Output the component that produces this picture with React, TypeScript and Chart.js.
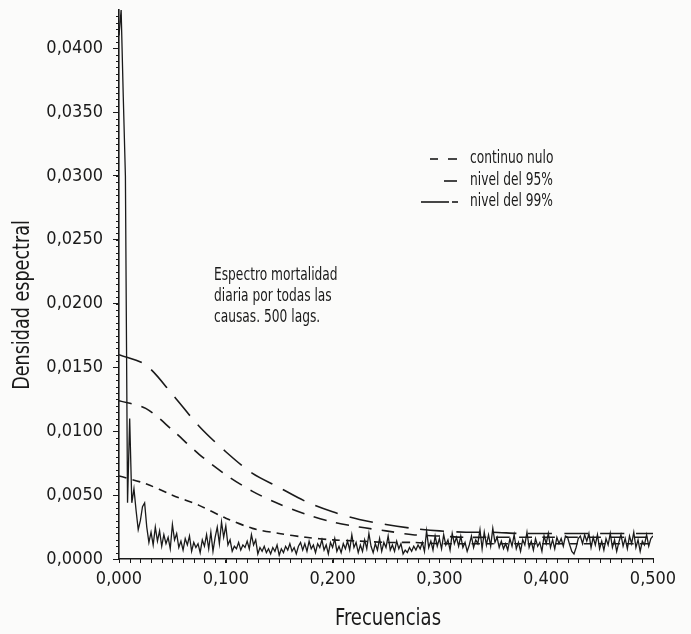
import React, { useEffect, useRef } from 'react';
import { Chart, registerables } from 'chart.js';
Chart.register(...registerables);

const FREQ_STEP = 0.002;
const spectrum = [
  0.0410, 0.0430, 0.0362, 0.0300, 0.0044, 0.0110, 0.0044, 0.0055, 0.0038, 0.0023,
  0.0030, 0.0041, 0.0044, 0.0025, 0.0013, 0.0021, 0.0011, 0.0025, 0.0014, 0.0022,
  0.0010, 0.0019, 0.0012, 0.0017, 0.0008, 0.0027, 0.0015, 0.0020, 0.0009, 0.0014,
  0.0007, 0.0016, 0.0011, 0.0018, 0.0006, 0.0013, 0.0009, 0.0012, 0.0005, 0.0015,
  0.0010, 0.0019, 0.0008, 0.0021, 0.0006, 0.0017, 0.0025, 0.0012, 0.0029, 0.0017,
  0.0026, 0.0011, 0.0015, 0.0006, 0.0010, 0.0008, 0.0013, 0.0007, 0.0011, 0.0009,
  0.0014, 0.0008, 0.0019, 0.0011, 0.0015, 0.0004, 0.0009, 0.0006, 0.0010, 0.0005,
  0.0008, 0.0004, 0.0009, 0.0006, 0.0011, 0.0003, 0.0008, 0.0005, 0.0010, 0.0007,
  0.0012, 0.0006, 0.0009, 0.0004, 0.0010, 0.0013, 0.0007, 0.0012, 0.0006, 0.0014,
  0.0008, 0.0011, 0.0005, 0.0012, 0.0009, 0.0015, 0.0007, 0.0011, 0.0004, 0.0013,
  0.0009, 0.0016, 0.0006, 0.0010, 0.0005, 0.0012, 0.0008, 0.0014, 0.0007, 0.0019,
  0.0009, 0.0013, 0.0005, 0.0011, 0.0006, 0.0015, 0.0008, 0.0020, 0.0010, 0.0005,
  0.0012, 0.0007, 0.0016, 0.0006, 0.0013, 0.0009, 0.0018, 0.0007, 0.0011, 0.0006,
  0.0014, 0.0008, 0.0012, 0.0004, 0.0007, 0.0005, 0.0009, 0.0006, 0.0010, 0.0007,
  0.0011, 0.0008, 0.0013, 0.0006, 0.0022, 0.0009, 0.0014, 0.0007, 0.0018, 0.0010,
  0.0016, 0.0008, 0.0019, 0.0011, 0.0015, 0.0007, 0.0020, 0.0012, 0.0017, 0.0010,
  0.0018, 0.0009, 0.0013, 0.0006, 0.0011, 0.0018, 0.0009, 0.0015, 0.0012, 0.0023,
  0.0008, 0.0021, 0.0011, 0.0019, 0.0010, 0.0024, 0.0013, 0.0017, 0.0009, 0.0014,
  0.0008, 0.0012, 0.0007, 0.0016, 0.0010, 0.0019, 0.0008, 0.0013, 0.0006, 0.0015,
  0.0011, 0.0021, 0.0009, 0.0014, 0.0007, 0.0016, 0.0010, 0.0013, 0.0006, 0.0018,
  0.0012, 0.0020, 0.0009, 0.0015, 0.0008, 0.0017, 0.0012, 0.0016, 0.0010, 0.0018,
  0.0017, 0.0011, 0.0006, 0.0004, 0.0009, 0.0016, 0.0018, 0.0012, 0.0019, 0.0014,
  0.0020, 0.0009, 0.0017, 0.0011, 0.0019, 0.0008, 0.0014, 0.0007, 0.0016, 0.0011,
  0.0020, 0.0009, 0.0015, 0.0006, 0.0013, 0.0019, 0.0010, 0.0016, 0.0008, 0.0018,
  0.0012, 0.0021, 0.0009, 0.0015, 0.0006, 0.0014, 0.0011, 0.0019, 0.0010, 0.0016,
  0.0018,
];

// Reference levels, read at these frequencies
const levelFreqs = [0, 0.025, 0.05, 0.075, 0.1, 0.125, 0.15, 0.175, 0.2, 0.225, 0.25,
  0.275, 0.3, 0.325, 0.35, 0.375, 0.4, 0.425, 0.45, 0.475, 0.5];
const nullContinuum = [0.0065, 0.0059, 0.0050, 0.0042, 0.0032, 0.0024, 0.0020, 0.0017, 0.0015,
  0.0014, 0.0013, 0.0013, 0.0012, 0.0012, 0.0012, 0.0012, 0.0012, 0.0012, 0.0012, 0.0012, 0.0012];
const level95 = [0.0124, 0.0118, 0.0101, 0.0082, 0.0066, 0.0053, 0.0043, 0.0035, 0.0029,
  0.0025, 0.0022, 0.0019, 0.0018, 0.0017, 0.0017, 0.0017, 0.0017, 0.0017, 0.0017, 0.0017, 0.0017];
const level99 = [0.0160, 0.0152, 0.0129, 0.0104, 0.0084, 0.0067, 0.0056, 0.0045, 0.0037,
  0.0031, 0.0027, 0.0024, 0.0022, 0.0021, 0.0021, 0.0020, 0.0020, 0.0020, 0.0020, 0.0020, 0.0020];

const xTicks = [0, 0.1, 0.2, 0.3, 0.4, 0.5];
const yTicks = [0, 0.005, 0.01, 0.015, 0.02, 0.025, 0.03, 0.035, 0.04];
const legendLabels = ['continuo nulo', 'nivel del 95%', 'nivel del 99%'];
const noteLines = ['Espectro mortalidad', 'diaria por todas las', 'causas. 500 lags.'];
const xTitle = 'Frecuencias';
const yTitle = 'Densidad espectral';

const FONT = '"Liberation Sans Narrow", "DejaVu Sans Condensed", "Arial Narrow", sans-serif';
const INK = '#1a1a1a';

function condensedText(ctx: CanvasRenderingContext2D, text: string, x: number, y: number, sx: number) {
  ctx.save();
  ctx.translate(x, y);
  ctx.scale(sx, 1);
  ctx.fillText(text, 0, 0);
  ctx.restore();
}

const overlayPlugin = {
  id: 'overlay',
  afterDraw(chart: any) {
    const ctx = chart.ctx as CanvasRenderingContext2D;
    const xs = chart.scales.x;
    const ys = chart.scales.y;
    const area = chart.chartArea;
    ctx.save();
    ctx.strokeStyle = INK;
    ctx.lineWidth = 1;
    // minor ticks on y (every 0.0005)
    for (let i = 0; i * 0.0005 <= 0.043; i++) {
      const py = Math.round(ys.getPixelForValue(i * 0.0005)) + 0.5;
      ctx.beginPath();
      ctx.moveTo(area.left - 3, py);
      ctx.lineTo(area.left, py);
      ctx.stroke();
    }
    // minor ticks on x (every 0.01)
    for (let i = 0; i <= 50; i++) {
      const px = Math.round(xs.getPixelForValue(i * 0.01)) + 0.5;
      ctx.beginPath();
      ctx.moveTo(px, area.bottom);
      ctx.lineTo(px, area.bottom + 4);
      ctx.stroke();
    }
    // legend
    ctx.lineWidth = 1.6;
    const rows = [159, 181, 202];
    const samples: number[][][] = [
      [[430, 438], [448, 457]],
      [[444, 457]],
      [[421, 449], [452, 458]],
    ];
    ctx.fillStyle = INK;
    ctx.font = '17px ' + FONT;
    ctx.textBaseline = 'middle';
    ctx.textAlign = 'left';
    legendLabels.forEach((lab, i) => {
      samples[i].forEach(([a, b]) => {
        ctx.beginPath();
        ctx.moveTo(a, rows[i]);
        ctx.lineTo(b, rows[i]);
        ctx.stroke();
      });
      condensedText(ctx, lab, 470, rows[i], 0.8);
    });
    // note
    const noteRows = [276, 297, 318];
    noteLines.forEach((t, i) => condensedText(ctx, t, 214, noteRows[i], 0.8));
    // axis titles
    ctx.font = '23px ' + FONT;
    ctx.textAlign = 'center';
    condensedText(ctx, xTitle, 388, 619, 0.87);
    ctx.save();
    ctx.translate(23, 305);
    ctx.rotate(-Math.PI / 2);
    condensedText(ctx, yTitle, 0, 0, 0.85);
    ctx.restore();
    ctx.restore();
  },
};

export default function App() {
  const ref = useRef<HTMLCanvasElement | null>(null);
  useEffect(() => {
    document.body.style.margin = '0';
    document.body.style.background = '#fbfbfa';
    const canvas = ref.current;
    if (!canvas) return;
    const chart = new Chart(canvas, {
      type: 'line',
      data: {
        datasets: [
          {
            label: 'Espectro',
            data: spectrum.map((v, i) => ({ x: i * FREQ_STEP, y: v })),
            borderColor: INK,
            borderWidth: 1.3,
            pointRadius: 0,
            tension: 0,
          },
          {
            label: legendLabels[0],
            data: levelFreqs.map((f, i) => ({ x: f, y: nullContinuum[i] })),
            borderColor: INK,
            borderWidth: 1.6,
            borderDash: [8, 6],
            pointRadius: 0,
            tension: 0.3,
          },
          {
            label: legendLabels[1],
            data: levelFreqs.map((f, i) => ({ x: f, y: level95[i] })),
            borderColor: INK,
            borderWidth: 1.6,
            borderDash: [13, 10],
            pointRadius: 0,
            tension: 0.3,
          },
          {
            label: legendLabels[2],
            data: levelFreqs.map((f, i) => ({ x: f, y: level99[i] })),
            borderColor: INK,
            borderWidth: 1.6,
            borderDash: [24, 12],
            pointRadius: 0,
            tension: 0.3,
          },
        ],
      },
      options: {
        animation: false,
        responsive: false,
        maintainAspectRatio: false,
        layout: { padding: { left: 0, right: 38, top: 10, bottom: 0 } },
        plugins: { legend: { display: false }, tooltip: { enabled: false } },
        scales: {
          x: {
            type: 'linear',
            min: 0,
            max: 0.5,
            afterBuildTicks: (s: any) => { s.ticks = xTicks.map((v) => ({ value: v })); },
            afterFit: (s: any) => { s.height = 75; s.paddingLeft = 0; s.paddingRight = 0; },
            grid: { display: true, drawOnChartArea: false, drawTicks: true, tickLength: 4, color: INK, lineWidth: 1 },
            border: { display: true, color: INK, width: 1.6 },
            ticks: {
              padding: 6,
              color: INK,
              font: { family: FONT, size: 18 },
              maxRotation: 0,
              callback: (v: any) => Number(v).toFixed(3).replace('.', ','),
            },
          },
          y: {
            type: 'linear',
            min: 0,
            max: 0.043,
            afterBuildTicks: (s: any) => { s.ticks = yTicks.map((v) => ({ value: v })); },
            afterFit: (s: any) => { s.width = 119; s.paddingTop = 0; s.paddingBottom = 0; },
            grid: { display: true, drawOnChartArea: false, drawTicks: true, tickLength: 6, color: INK, lineWidth: 1 },
            border: { display: true, color: INK, width: 1.6 },
            ticks: {
              padding: 10,
              color: INK,
              font: { family: FONT, size: 18 },
              callback: (v: any) => Number(v).toFixed(4).replace('.', ','),
            },
          },
        },
      },
      plugins: [overlayPlugin],
    });
    return () => chart.destroy();
  }, []);
  return <canvas ref={ref} width={691} height={634} style={{ display: 'block' }} />;
}
